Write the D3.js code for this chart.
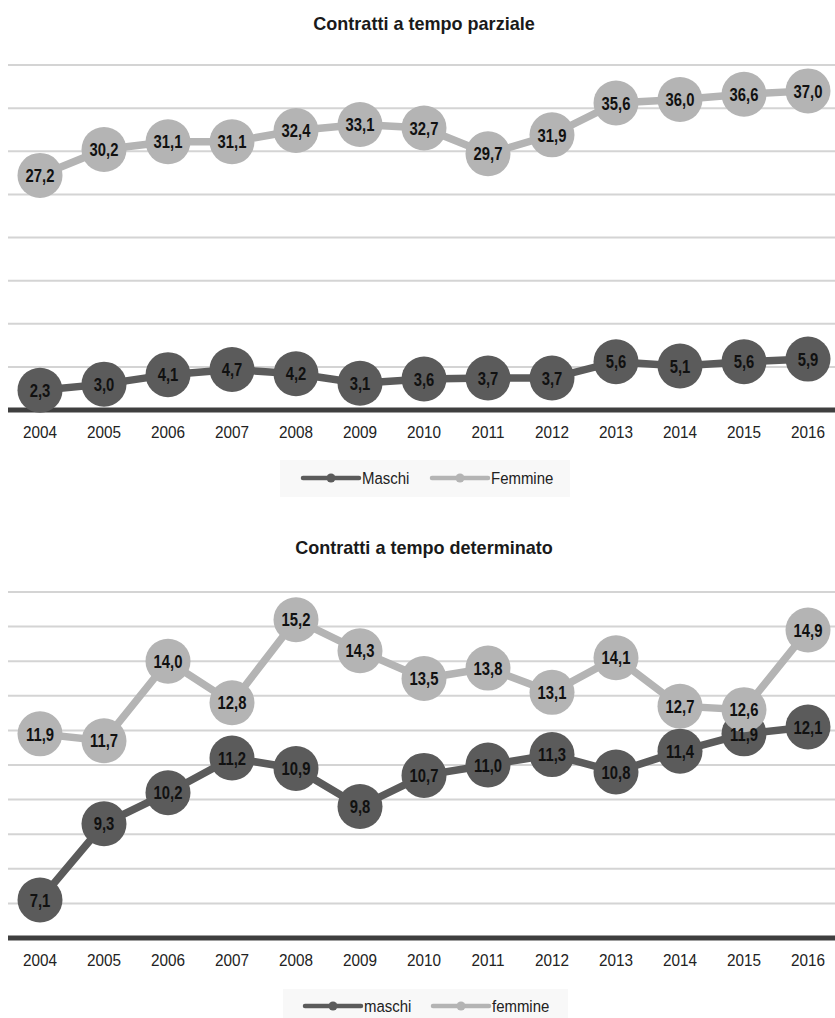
<!DOCTYPE html>
<html><head><meta charset="utf-8">
<script src="https://cdn.jsdelivr.net/npm/d3@7"></script>
<style>
body{margin:0;background:#fff;}
svg{display:block;font-family:"Liberation Sans",Arial,sans-serif;}
</style></head><body>
<svg id="c" width="835" height="1018"></svg>
<script>
const years = ["2004","2005","2006","2007","2008","2009","2010","2011","2012","2013","2014","2015","2016"];
const partMaschi = [2.3,3.0,4.1,4.7,4.2,3.1,3.6,3.7,3.7,5.6,5.1,5.6,5.9];
const partFemmine = [27.2,30.2,31.1,31.1,32.4,33.1,32.7,29.7,31.9,35.6,36.0,36.6,37.0];
const detMaschi = [7.1,9.3,10.2,11.2,10.9,9.8,10.7,11.0,11.3,10.8,11.4,11.9,12.1];
const detFemmine = [11.9,11.7,14.0,12.8,15.2,14.3,13.5,13.8,13.1,14.1,12.7,12.6,14.9];
const partTicks = [5,10,15,20,25,30,35,40];
const detTicks = [7,8,9,10,11,12,13,14,15,16];

const DARK = "#5b5b5b", LIGHT = "#b4b4b4";
const it = d3.formatLocale({decimal:",",thousands:".",grouping:[3],currency:["€",""]});
const fmt = it.format(".1f");

const svg = d3.select("#c");
const x = d3.scaleBand().domain(years).range([8, 840]);
const cx = d => x(d) + x.bandwidth()/2;

// narrow text helper
function ntext(sel, px, py, sx){
  return sel.append("text").attr("transform", `translate(${px},${py}) scale(${sx},1)`);
}

function chart(cfg){
  const g = svg.append("g");
  const y = d3.scaleLinear().domain(cfg.domain).range(cfg.yRange);
  ntext(g, 424, cfg.titleY, 0.95).attr("text-anchor","middle")
    .attr("font-weight","bold").attr("font-size",19).attr("fill","#1a1a1a").text(cfg.title);
  // gridlines
  g.append("g").selectAll("line").data(cfg.ticks).join("line")
    .attr("x1", 8).attr("x2", 835).attr("y1", d=>y(d)).attr("y2", d=>y(d))
    .attr("stroke", "#d4d4d4").attr("stroke-width", 2);
  // axis
  const ax = g.append("g").attr("transform", `translate(0,${cfg.yRange[0]})`)
    .call(d3.axisBottom(x).tickSize(0).tickPadding(16));
  ax.select(".domain").attr("stroke","#3f3f3f").attr("stroke-width",5).attr("d","M8,0H835");
  ax.selectAll(".tick text").attr("font-size",17).attr("fill","#222").attr("font-family","inherit")
    .attr("transform","scale(0.9,1)");
  const line = d3.line().x((d,i)=>cx(years[i])).y(d=>y(d));
  const series = [{v:cfg.m,c:DARK},{v:cfg.f,c:LIGHT}];
  series.forEach(s=>{
    g.append("path").datum(s.v).attr("d", line).attr("fill","none")
      .attr("stroke", s.c).attr("stroke-width", 7.5);
    g.append("g").selectAll("circle").data(s.v).join("circle")
      .attr("cx",(d,i)=>cx(years[i])).attr("cy",d=>y(d)).attr("r",22.5).attr("fill",s.c);
  });
  series.forEach(s=>{
    g.append("g").selectAll("text").data(s.v).join("text")
      .attr("transform",(d,i)=>`translate(${cx(years[i])},${y(d)}) scale(0.8,1)`)
      .attr("dy","0.36em")
      .attr("text-anchor","middle").attr("font-weight","bold").attr("font-size",18.5)
      .attr("fill","#111").text(d=>fmt(d));
  });
  // legend
  const lg = g.append("g");
  lg.append("rect").attr("x",cfg.legBox[0]).attr("y",cfg.legBox[1]).attr("width",cfg.legBox[2]).attr("height",cfg.legBox[3]).attr("fill","#f8f8f8");
  cfg.leg.forEach(l=>{
    lg.append("line").attr("x1",l.x).attr("x2",l.x+56).attr("y1",cfg.legY).attr("y2",cfg.legY)
      .attr("stroke",l.c).attr("stroke-width",4.5).attr("stroke-linecap","round");
    lg.append("circle").attr("cx",l.x+28).attr("cy",cfg.legY).attr("r",4.5).attr("fill",l.c);
    ntext(lg, l.x+59, cfg.legY, 0.88).attr("dy","0.36em")
      .attr("font-size",17).attr("fill","#222").text(l.t);
  });
}

chart({title:"Contratti a tempo parziale", titleY:30, domain:[0,40], yRange:[410,65], ticks:partTicks,
  m:partMaschi, f:partFemmine, legY:478, legBox:[280,460,290,37],
  leg:[{x:303,c:DARK,t:"Maschi"},{x:432,c:LIGHT,t:"Femmine"}]});
chart({title:"Contratti a tempo determinato", titleY:554, domain:[6,16], yRange:[938,592], ticks:detTicks,
  m:detMaschi, f:detFemmine, legY:1006, legBox:[283,989,285,29],
  leg:[{x:305,c:DARK,t:"maschi"},{x:433,c:LIGHT,t:"femmine"}]});
</script></body></html>
